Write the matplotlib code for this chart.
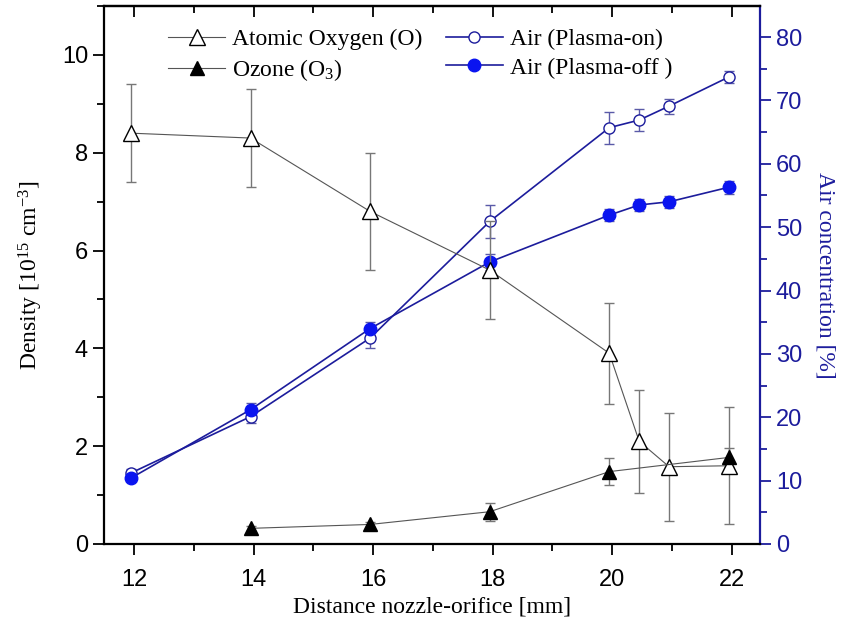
import numpy as np
import matplotlib
matplotlib.use("Agg")
import matplotlib.pyplot as plt
from matplotlib.ticker import MultipleLocator

plt.rcParams['mathtext.fontset'] = 'custom'
plt.rcParams['mathtext.rm'] = 'Liberation Serif'
plt.rcParams['mathtext.it'] = 'Liberation Serif:italic'

# distance nozzle-orifice [mm]
dist = [11.95, 13.95, 15.95, 17.95, 19.95, 20.45, 20.95, 21.95]
dist_o3 = [13.95, 15.95, 17.95, 19.95, 21.95]

# atomic oxygen density [1e15 cm^-3]
oxygen = [8.40, 8.30, 6.80, 5.60, 3.90, 2.10, 1.58, 1.60]
oxygen_err = [1.0, 1.0, 1.2, 1.0, 1.03, 1.05, 1.1, 1.2]

# ozone density
ozone = [0.32, 0.40, 0.66, 1.48, 1.77]
ozone_err = [0.05, 0.06, 0.18, 0.28, 0.2]

# air concentration [%]
air_on = [11.2, 20.1, 32.5, 50.9, 65.7, 66.9, 69.1, 73.7]
air_on_err = [0.6, 1.0, 1.5, 2.6, 2.5, 1.8, 1.2, 1.0]
air_off = [10.4, 21.2, 34.0, 44.5, 51.9, 53.5, 54.0, 56.3]
air_off_err = [0.5, 1.0, 1.0, 1.3, 0.9, 0.9, 0.9, 1.0]

navy = '#1c1c9c'
bright = '#0a14f0'
serif = 'Liberation Serif'
sans = 'Liberation Sans'

fig = plt.figure(figsize=(8.43, 6.25), dpi=100)
ax = fig.add_axes([0.1234, 0.1296, 0.7781, 0.8608])
ax2 = ax.twinx()

l1 = ax.errorbar(dist, oxygen, yerr=oxygen_err, color='#555555', lw=0.8,
                 marker='^', ms=11, mfc='white', mec='black', mew=1.0,
                 ecolor='#777777', elinewidth=1.0, capsize=3.5, capthick=1.0,
                 label='Atomic Oxygen (O)', zorder=3)
l2 = ax.errorbar(dist_o3, ozone, yerr=ozone_err, color='#555555', lw=0.8,
                 marker='^', ms=10, mfc='black', mec='black',
                 ecolor='#777777', elinewidth=1.0, capsize=3.5, capthick=1.0,
                 label='Ozone (O$_3$)', zorder=3)

l3 = ax2.errorbar(dist, air_on, yerr=air_on_err, color=navy, lw=1.2,
                  marker='o', ms=8, mfc='white', mec=navy, mew=1.0,
                  ecolor='#5a5aa8', elinewidth=1.0, capsize=3.5, capthick=1.0,
                  label='Air (Plasma-on)')
l4 = ax2.errorbar(dist, air_off, yerr=air_off_err, color=navy, lw=1.2,
                  marker='o', ms=9, mfc=bright, mec=bright,
                  ecolor='#5a5aa8', elinewidth=1.0, capsize=3.5, capthick=1.0,
                  label='Air (Plasma-off )')

ax.set_xlim(11.5, 22.47)
ax.set_ylim(0, 11)
ax2.set_ylim(0, 84.9)

ax.xaxis.set_major_locator(MultipleLocator(2))
ax.xaxis.set_minor_locator(MultipleLocator(1))
ax.yaxis.set_major_locator(MultipleLocator(2))
ax.yaxis.set_minor_locator(MultipleLocator(1))
ax2.yaxis.set_major_locator(MultipleLocator(10))
ax2.yaxis.set_minor_locator(MultipleLocator(5))

ax.tick_params(axis='x', which='both', direction='out', top=False, width=1.3, labelsize=17, pad=10)
ax.tick_params(axis='x', which='major', length=8)
ax.tick_params(axis='x', which='minor', length=5)
ax.tick_params(axis='y', which='both', direction='out', width=1.3, labelsize=17)
ax.tick_params(axis='y', which='major', length=8)
ax.tick_params(axis='y', which='minor', length=5)
ax2.tick_params(axis='y', which='both', direction='out', colors=navy, width=1.3, labelsize=17)
ax2.tick_params(axis='y', which='major', length=8)
ax2.tick_params(axis='y', which='minor', length=5)

# inward ticks along the top
top = ax.secondary_xaxis('top')
top.xaxis.set_major_locator(MultipleLocator(2))
top.xaxis.set_minor_locator(MultipleLocator(1))
top.tick_params(which='both', direction='in', width=1.3, labeltop=False)
top.tick_params(which='major', length=8)
top.tick_params(which='minor', length=5)

for lab in ax.get_xticklabels() + ax.get_yticklabels() + ax2.get_yticklabels():
    lab.set_family(sans)

for s in ['left', 'bottom', 'top']:
    ax.spines[s].set_linewidth(1.6)
top.spines['top'].set_linewidth(1.6)
ax2.spines['right'].set_color(navy)
ax2.spines['right'].set_linewidth(1.6)
for s in ['left', 'bottom', 'top']:
    ax2.spines[s].set_visible(False)
ax.spines['right'].set_visible(False)

ax.set_xlabel('Distance nozzle-orifice [mm]', family=serif, fontsize=17, labelpad=4)
ax.set_ylabel('Density [10$^{15}$ cm$^{-3}$]', family=serif, fontsize=17, labelpad=12)
ax2.set_ylabel('Air concentration [%]', family=serif, fontsize=17, color=navy,
               rotation=270, labelpad=24)

handles = [l1[0], l2[0], l3[0], l4[0]]
labels = [l1.get_label(), l2.get_label(), l3.get_label(), l4.get_label()]
leg = ax.legend(handles, labels, ncol=2, loc='upper left',
                bbox_to_anchor=(0.098, 0.958), frameon=False,
                prop={'family': serif, 'size': 17}, handlelength=2.4,
                columnspacing=1.0, handletextpad=0.3, labelspacing=0.3,
                borderpad=0, borderaxespad=0)
ax.set_zorder(ax2.get_zorder() + 1)
ax.patch.set_visible(False)

fig.savefig('out.png', dpi=100)
